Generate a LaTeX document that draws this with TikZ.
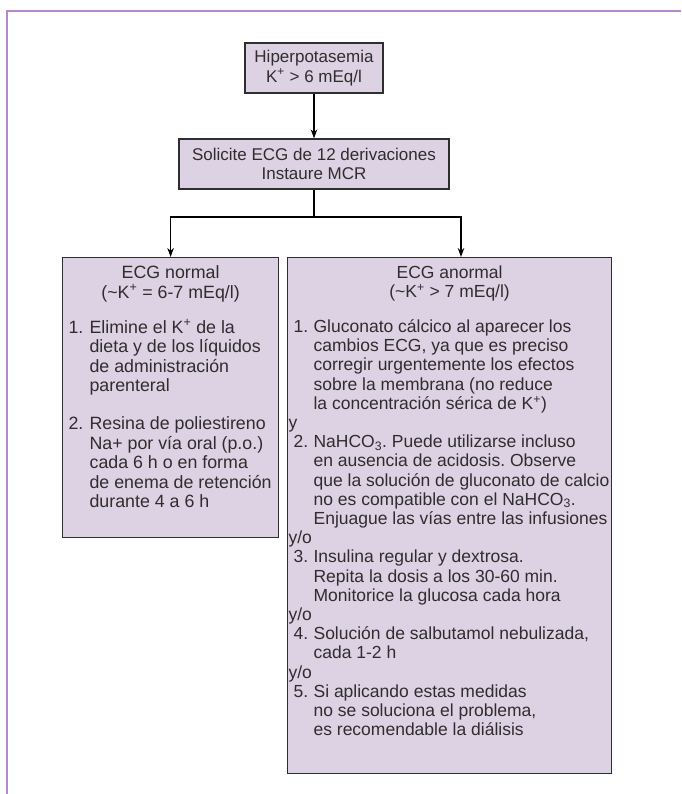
\documentclass[tikz,border=0pt]{standalone}
\usepackage{fontspec}
\setmainfont{Liberation Sans}
\usepackage{tikz}
\usetikzlibrary{arrows.meta}
\definecolor{lila}{HTML}{DDD1E4}
\definecolor{marco}{HTML}{B48ACB}
\definecolor{tinta}{HTML}{2E2E2E}
\frenchspacing
\newcommand{\Kmas}{K\smash{\textsuperscript{+}}}
\newcommand{\NaH}{NaHCO\smash{\textsubscript{3}}}
\newcommand{\titulo}[2]{\multicolumn{2}{@{}c@{}}{\makebox[#1][c]{#2}}}

\begin{document}
\begin{tikzpicture}[x=1pt,y=-1pt]
    \useasboundingbox (0,0) rectangle (681,794);
    \draw[marco,line width=1.5pt] (7,794) -- (7,11) -- (681,11);

    \begin{scope}[every node/.style={shape=rectangle,draw=tinta,fill=lila,text=tinta,
        line width=1.2pt,font=\fontsize{17}{19.5}\selectfont}]
      \node[align=center,minimum width=138pt,minimum height=50pt] (A) at (314,68)
           {Hiperpotasemia\\ \Kmas{} > 6 mEq/l};
      \node[align=center,minimum width=270pt,minimum height=50pt] (B) at (314,164)
           {Solicite ECG de 12 derivaciones\\ Instaure MCR};

      \node[anchor=north west,minimum width=216pt,inner xsep=6pt,inner ysep=0pt,
            text height=21pt,text depth=259pt,font=\fontsize{17.8}{19.5}\selectfont] (C) at (62,257)
           {\begin{tabular}[t]{@{}p{21pt}@{}l@{}}
              \titulo{204pt}{ECG normal}\\
              \titulo{204pt}{(\textasciitilde\Kmas{} = 6-7 mEq/l)}\\[15.5pt]
              1. & Elimine el \Kmas{} de la\\
                 & dieta y de los líquidos\\
                 & de administración\\
                 & parenteral\\[18.5pt]
              2. & Resina de poliestireno\\
                 & Na+ por vía oral (p.o.)\\
                 & cada 6 h o en forma\\
                 & de enema de retención\\
                 & durante 4 a 6 h
            \end{tabular}};

      \node[anchor=north west,minimum width=324pt,inner xsep=1pt,inner ysep=0pt,
            text height=21pt,text depth=495pt,font=\fontsize{17.5}{19.2}\selectfont] (D) at (287,257)
           {\begin{tabular}[t]{@{\hspace{5pt}}p{20pt}@{}l@{}}
              \titulo{322pt}{ECG anormal}\\
              \titulo{322pt}{(\textasciitilde\Kmas{} > 7 mEq/l)}\\[15.5pt]
              1. & Gluconato cálcico al aparecer los\\
                 & cambios ECG, ya que es preciso\\
                 & corregir urgentemente los efectos\\
                 & sobre la membrana (no reduce\\
                 & la concentración sérica de \Kmas)\\
              \multicolumn{2}{@{}l@{}}{y}\\
              2. & \NaH. Puede utilizarse incluso\\
                 & en ausencia de acidosis. Observe\\
                 & que la solución de gluconato de calcio\\
                 & no es compatible con el \NaH.\\
                 & Enjuague las vías entre las infusiones\\
              \multicolumn{2}{@{}l@{}}{y/o}\\
              3. & Insulina regular y dextrosa.\\
                 & Repita la dosis a los 30-60 min.\\
                 & Monitorice la glucosa cada hora\\
              \multicolumn{2}{@{}l@{}}{y/o}\\
              4. & Solución de salbutamol nebulizada,\\
                 & cada 1-2 h\\
              \multicolumn{2}{@{}l@{}}{y/o}\\
              5. & Si aplicando estas medidas\\
                 & no se soluciona el problema,\\
                 & es recomendable la diálisis
            \end{tabular}};
    \end{scope}

    \begin{scope}[>={Stealth[length=9pt,width=6.5pt]},line width=1.5pt]
      \coordinate (J) at (314,217);
      \coordinate (Dn) at (461,257);
      \path [->] (A) edge (B);
      \draw [->] (B) -- (J) -| (C.north);
      \draw [->] (J) -| (Dn);
    \end{scope}
\end{tikzpicture}
\end{document}
